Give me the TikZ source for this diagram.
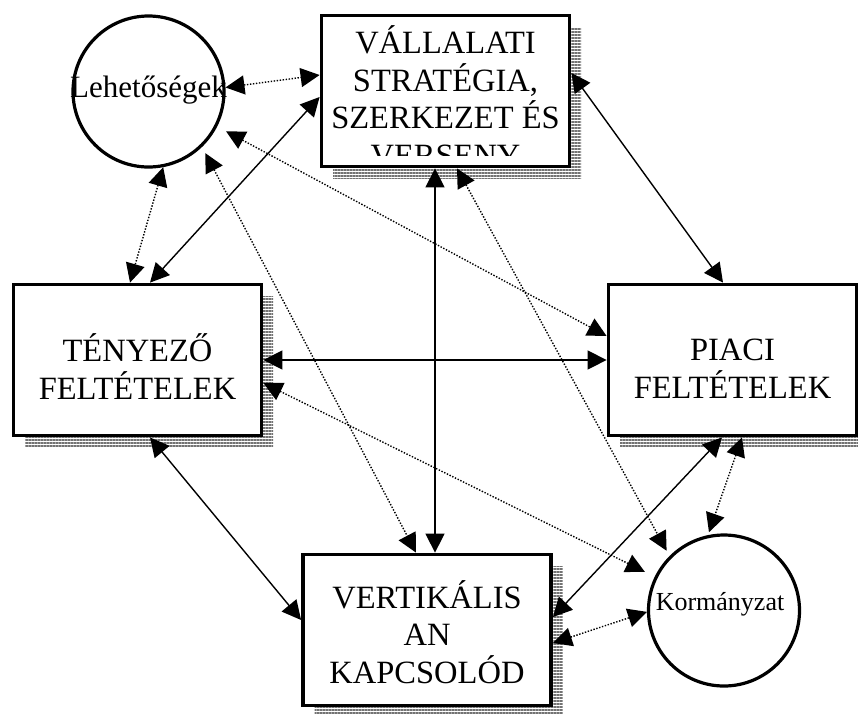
\documentclass[tikz,border=0pt]{standalone}
\usepackage{fontspec}
\setmainfont{Liberation Serif}
\usetikzlibrary{arrows.meta,shadows,patterns.meta}

\begin{document}
\begin{tikzpicture}[x=1pt,y=-1pt,
    solidlink/.style={{Triangle[length=19pt,width=19pt]}-{Triangle[length=19pt,width=19pt]},line width=1.4pt},
    dotlink/.style={solidlink,dash pattern=on 1.4pt off 1.6pt}]

  \useasboundingbox (0,0) rectangle (858,713);

  \begin{scope}[every node/.style={draw,line width=3.8pt,fill=white,minimum width=248pt,minimum height=151pt,inner sep=0pt,
      drop shadow={shadow xshift=11.5pt,shadow yshift=-11.5pt,opacity=1,pattern={Lines[distance=3pt,line width=2.3pt]},pattern color=black!55}}]
    \node (vall) at (445.5,91) {};
    \node (teny) at (137.5,360) {};
    \node (piac) at (732.5,360) {};
    \node (vert) at (427,630) {};
  \end{scope}

  % anchor=base sits on the last line
  \begin{scope}[every node/.style={font=\fontsize{32.5}{37.5}\selectfont,align=center,inner sep=0pt,anchor=base}]
    \begin{scope}
      \clip ([yshift=-2pt]vall.north west) rectangle ([yshift=13pt]vall.south east);
      \node (vall-t) at (445.5,166) {VÁLLALATI\\STRATÉGIA,\\SZERKEZET ÉS\\VERSENY};
    \end{scope}
    \node (teny-t) at (137.5,399) {TÉNYEZŐ\\FELTÉTELEK};
    \node (piac-t) at (732.5,398) {PIACI\\FELTÉTELEK};
    \node (vert-t) at (427,683) {VERTIKÁLIS\\AN\\KAPCSOLÓD};
  \end{scope}

  \begin{scope}[every node/.style={draw,circle,line width=3.2pt,minimum size=151pt,inner sep=0pt}]
    \node[font=\fontsize{31}{31}\selectfont,text height=22pt,text depth=11pt] (lehet) at (148.5,91.5) {\makebox[0pt]{Lehetőségek}};
    \node[font=\fontsize{26}{26}\selectfont,text height=18pt,text depth=19pt] (korm) at (724,610.5) {\makebox[0pt]{Kormányzat\hspace{8pt}}};
  \end{scope}

  % solid
  \draw[solidlink] ([xshift=12.5pt]teny.north) -- ([yshift=-6pt]vall.west);
  \draw[solidlink] ([yshift=18pt]vall.east) -- ([xshift=-9.5pt]piac.north);
  \draw[solidlink] ([xshift=-10.5pt]vall.south) -- ([xshift=8pt]vert.north);
  \draw[solidlink] (teny.east) -- (piac.west);
  \draw[solidlink] ([xshift=12.5pt]teny.south) -- ([yshift=10pt]vert.west);
  \draw[solidlink] ([xshift=-10.5pt]piac.south) -- ([yshift=13pt]vert.east);

  % dotted
  \draw[dotlink] (lehet.3) -- ([yshift=16pt]vall.west);
  \draw[dotlink] (lehet.-79) -- ([xshift=-7.5pt]teny.north);
  \draw[dotlink,shorten <=10pt] (lehet.-27) -- ([yshift=24pt]piac.west);
  \draw[dotlink,shorten <=7pt] (lehet.-46) -- ([xshift=-11pt]vert.north);
  \draw[dotlink,shorten >=6pt] ([xshift=11.5pt]vall.south) -- (korm.135);
  \draw[dotlink,shorten >=11pt] ([yshift=-23pt]teny.east) -- (korm.154);
  \draw[dotlink,shorten >=3pt] ([xshift=9.5pt]piac.south) -- (korm.102);
  \draw[dotlink] ([yshift=-13pt]vert.east) -- (korm.181);

\end{tikzpicture}
\end{document}
